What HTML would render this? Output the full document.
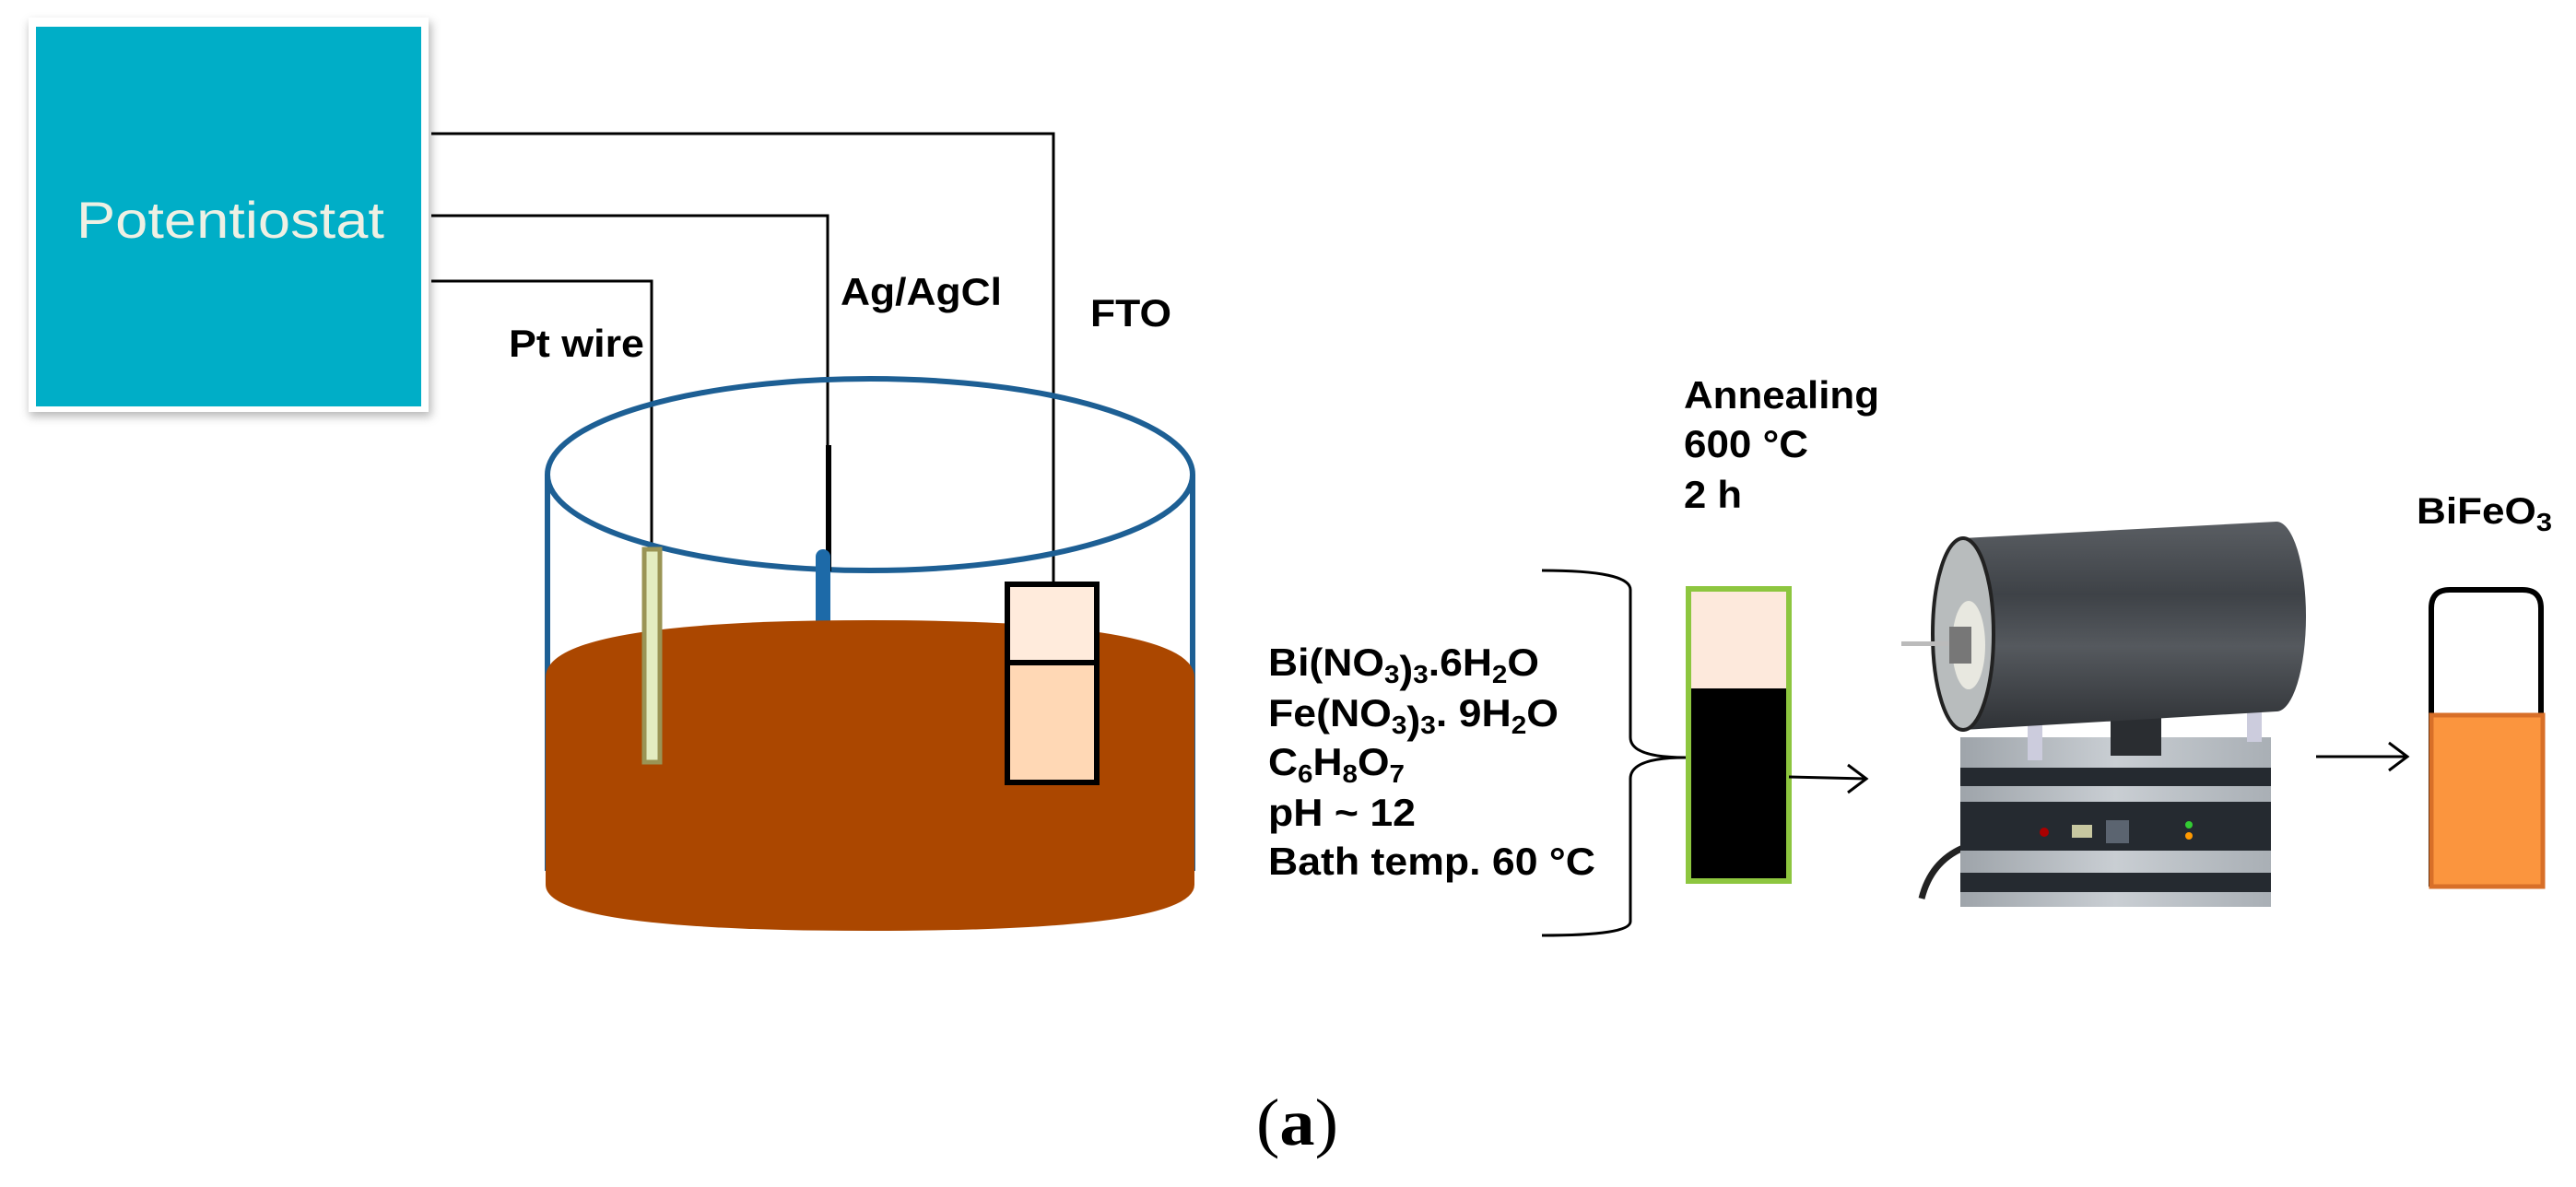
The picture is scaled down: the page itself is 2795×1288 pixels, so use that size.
<!DOCTYPE html>
<html><head><meta charset="utf-8"><style>html,body{margin:0;padding:0;background:#fff}svg{display:block}</style></head>
<body>
<svg width="2795" height="1288" viewBox="0 0 2795 1288" xmlns="http://www.w3.org/2000/svg">
<defs>
<filter id="sh" x="-10%" y="-10%" width="130%" height="130%"><feGaussianBlur stdDeviation="5"/></filter>
<linearGradient id="drum" x1="0" y1="0" x2="0" y2="1">
<stop offset="0" stop-color="#5a5e63"/><stop offset="0.35" stop-color="#3e4247"/><stop offset="0.6" stop-color="#55595e"/><stop offset="1" stop-color="#2f3236"/></linearGradient>
<linearGradient id="base" x1="0" y1="0" x2="1" y2="0">
<stop offset="0" stop-color="#9ea4aa"/><stop offset="0.5" stop-color="#c9ced3"/><stop offset="1" stop-color="#a9afb5"/></linearGradient>
</defs>
<!-- Potentiostat -->
<rect x="32" y="24" width="436" height="428" fill="#9a9a9a" filter="url(#sh)" opacity="0.7"/>
<rect x="31" y="19" width="434" height="428" fill="#fff"/>
<rect x="39" y="29" width="418" height="412" fill="#00aec7"/>
<text x="83" y="258" font-family="Liberation Sans, sans-serif" font-size="56" fill="#eef0e4" textLength="334" lengthAdjust="spacingAndGlyphs">Potentiostat</text>
<!-- wires -->
<g stroke="#000" stroke-width="3" fill="none">
<polyline points="468,145 1143,145 1143,633"/>
<polyline points="468,234 898,234 898,600"/>
<polyline points="468,305 707,305 707,596"/>
</g>
<text x="912" y="331" font-family="Liberation Sans, sans-serif" font-weight="bold" font-size="42" textLength="175" lengthAdjust="spacingAndGlyphs">Ag/AgCl</text>
<text x="1183" y="354" font-family="Liberation Sans, sans-serif" font-weight="bold" font-size="42" textLength="88" lengthAdjust="spacingAndGlyphs">FTO</text>
<text x="552" y="387" font-family="Liberation Sans, sans-serif" font-weight="bold" font-size="42" textLength="147" lengthAdjust="spacingAndGlyphs">Pt wire</text>
<!-- beaker -->
<line x1="594" y1="515" x2="594" y2="945" stroke="#1d5f94" stroke-width="6"/>
<line x1="1294" y1="515" x2="1294" y2="945" stroke="#1d5f94" stroke-width="6"/>
<ellipse cx="944" cy="515" rx="350" ry="104" fill="none" stroke="#1d5f94" stroke-width="6"/>
<!-- Ag/AgCl electrode -->
<line x1="899" y1="483" x2="899" y2="620" stroke="#000" stroke-width="6"/>
<rect x="885" y="596" width="16" height="90" rx="8" fill="#1d6aa8"/>
<!-- liquid -->
<path d="M592,735 Q592,673 944,673 Q1296,673 1296,735 L1296,960 Q1296,1010 944,1010 Q592,1010 592,960 Z" fill="#ab4700"/>
<!-- Pt rod -->
<rect x="699" y="596" width="17" height="231" fill="#e3ecc0" stroke="#9a9455" stroke-width="5"/>
<!-- FTO -->
<rect x="1093" y="634" width="97" height="215" fill="#ffd8b5" stroke="#000" stroke-width="6"/>
<rect x="1096" y="637" width="91" height="82" fill="#ffebdc"/>
<line x1="1093" y1="719" x2="1190" y2="719" stroke="#000" stroke-width="6"/>
<!-- chemical text -->
<g font-family="Liberation Sans, sans-serif" font-weight="bold" font-size="42" fill="#000">
<text x="1376" y="733" textLength="294" lengthAdjust="spacingAndGlyphs">Bi(NO<tspan font-size="28" dy="8">3</tspan><tspan dy="0">)</tspan><tspan font-size="28" dy="0">3</tspan><tspan dy="-8">.6H</tspan><tspan font-size="28" dy="8">2</tspan><tspan dy="-8">O</tspan></text>
<text x="1376" y="788" textLength="315" lengthAdjust="spacingAndGlyphs">Fe(NO<tspan font-size="28" dy="8">3</tspan><tspan dy="0">)</tspan><tspan font-size="28" dy="0">3</tspan><tspan dy="-8">. 9H</tspan><tspan font-size="28" dy="8">2</tspan><tspan dy="-8">O</tspan></text>
<text x="1376" y="841" textLength="148" lengthAdjust="spacingAndGlyphs">C<tspan font-size="28" dy="8">6</tspan><tspan dy="-8">H</tspan><tspan font-size="28" dy="8">8</tspan><tspan dy="-8">O</tspan><tspan font-size="28" dy="8">7</tspan></text>
<text x="1376" y="896" textLength="160" lengthAdjust="spacingAndGlyphs">pH ~ 12</text>
<text x="1376" y="949" textLength="355" lengthAdjust="spacingAndGlyphs">Bath temp. 60 °C</text>
<text x="1827" y="443" textLength="212" lengthAdjust="spacingAndGlyphs">Annealing</text>
<text x="1827" y="496" textLength="135" lengthAdjust="spacingAndGlyphs">600 °C</text>
<text x="1827" y="551" textLength="63" lengthAdjust="spacingAndGlyphs">2 h</text>
<text x="2622" y="568" font-size="40" textLength="147" lengthAdjust="spacingAndGlyphs">BiFeO<tspan font-size="28" dy="8">3</tspan></text>
</g>
<!-- bracket -->
<path d="M1673,619 Q1769,619 1769,640 L1769,800 Q1769,822 1829,822 Q1769,822 1769,845 L1769,1000 Q1769,1015 1673,1015" fill="none" stroke="#000" stroke-width="3"/>
<!-- sample -->
<rect x="1832" y="639" width="109" height="317" fill="#000" stroke="#8dc63f" stroke-width="6"/>
<rect x="1835" y="642" width="103" height="105" fill="#fde9dc"/>
<!-- arrow 1 -->
<line x1="1941" y1="843" x2="2025" y2="845" stroke="#000" stroke-width="3"/>
<polyline points="2005,830 2025,845 2005,860" fill="none" stroke="#000" stroke-width="3"/>
<!-- furnace -->
<path d="M2130,920 Q2095,935 2085,975" stroke="#222" stroke-width="7" fill="none"/>
<rect x="2127" y="800" width="337" height="184" fill="url(#base)"/>
<rect x="2127" y="833" width="337" height="20" fill="#252a30"/>
<rect x="2127" y="870" width="337" height="53" fill="#252a30"/>
<rect x="2127" y="947" width="337" height="21" fill="#252a30"/>
<rect x="2248" y="895" width="22" height="14" fill="#c7c7a0"/>
<rect x="2285" y="890" width="25" height="25" fill="#5b6470"/>
<circle cx="2375" cy="895" r="4" fill="#3c3"/><circle cx="2375" cy="907" r="4" fill="#f90"/>
<circle cx="2218" cy="903" r="5" fill="#a00"/>
<rect x="2200" y="785" width="16" height="40" fill="#ccd"/><rect x="2438" y="765" width="16" height="40" fill="#ccd"/>
<rect x="2290" y="775" width="55" height="45" fill="#2a2d31"/>
<path d="M2130,584 L2470,566 A32,103 0 0 1 2470,772 L2130,792 Z" fill="url(#drum)"/>
<ellipse cx="2130" cy="688" rx="33" ry="104" fill="#b8bcbd" stroke="#222" stroke-width="4"/>
<ellipse cx="2136" cy="700" rx="18" ry="48" fill="#e8e8e0"/>
<rect x="2063" y="696" width="55" height="5" fill="#bbb"/>
<rect x="2115" y="680" width="24" height="40" fill="#777"/>
<!-- arrow 2 -->
<line x1="2513" y1="821" x2="2612" y2="821" stroke="#000" stroke-width="3"/>
<polyline points="2592,806 2612,821 2592,836" fill="none" stroke="#000" stroke-width="3"/>
<!-- tube -->
<path d="M2638,962 L2638,660 Q2638,640 2658,640 L2737,640 Q2757,640 2757,660 L2757,962" fill="none" stroke="#000" stroke-width="6"/>
<rect x="2638" y="776" width="121" height="186" fill="#fb953e" stroke="#d86f28" stroke-width="5"/>
<!-- (a) -->
<text x="1363" y="1242" font-family="Liberation Serif, serif" font-size="72" textLength="89" lengthAdjust="spacingAndGlyphs">(<tspan font-weight="bold">a</tspan>)</text>
</svg>
</body></html>
